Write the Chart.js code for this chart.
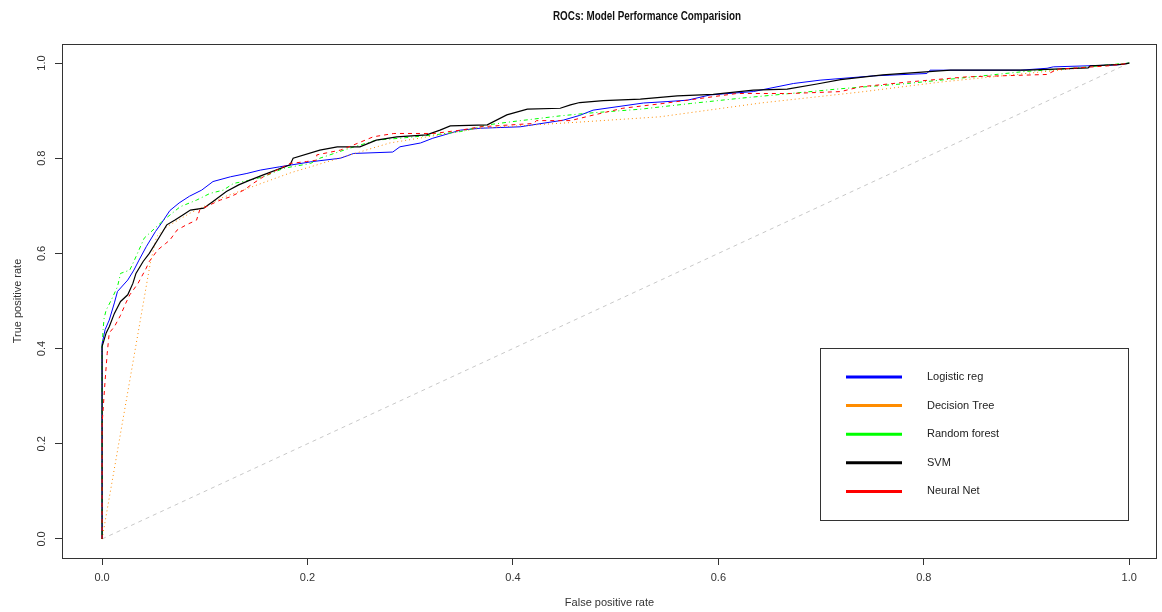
<!DOCTYPE html>
<html>
<head>
<meta charset="utf-8">
<script src="https://cdn.jsdelivr.net/npm/chart.js@4.4.1/dist/chart.umd.min.js"></script>
<style>
  html, body { margin: 0; padding: 0; background: #fff; }
  #roc { display: block; }
</style>
</head>
<body>
<canvas id="roc" width="1162" height="612"></canvas>
<script>
// ROC points (false positive rate / true positive rate)
const modelNames = ['Logistic reg', 'Decision Tree', 'Random forest', 'SVM', 'Neural Net'];
const axisTicks = [0, 0.2, 0.4, 0.6, 0.8, 1.0];

const lrFpr = [0, 0, 0.003, 0.007, 0.012, 0.015, 0.025, 0.031, 0.036, 0.043, 0.052, 0.058, 0.066, 0.075, 0.085, 0.097, 0.108, 0.125, 0.141, 0.154, 0.173, 0.205, 0.232, 0.245, 0.283, 0.29, 0.31, 0.322, 0.349, 0.368, 0.407, 0.449, 0.465, 0.478, 0.527, 0.55, 0.57, 0.592, 0.634, 0.673, 0.699, 0.751, 0.803, 0.806, 0.894, 0.92, 0.926, 0.988, 1];
const lrTpr = [0, 0.41, 0.44, 0.46, 0.496, 0.52, 0.544, 0.565, 0.586, 0.614, 0.646, 0.664, 0.69, 0.706, 0.72, 0.733, 0.751, 0.761, 0.768, 0.775, 0.782, 0.793, 0.80, 0.81, 0.813, 0.824, 0.832, 0.842, 0.859, 0.863, 0.866, 0.88, 0.89, 0.901, 0.916, 0.919, 0.922, 0.933, 0.94, 0.957, 0.964, 0.973, 0.978, 0.985, 0.985, 0.989, 0.992, 0.996, 1];

const dtFpr = [0, 0.047, 0.053, 0.063, 0.086, 0.118, 0.183, 0.28, 0.368, 0.465, 0.543, 0.641, 0.738, 0.816, 0.913, 1];
const dtTpr = [0, 0.58, 0.635, 0.656, 0.685, 0.718, 0.769, 0.832, 0.863, 0.876, 0.887, 0.916, 0.939, 0.96, 0.981, 1];

const rfFpr = [0, 0, 0.001, 0.002, 0.004, 0.009, 0.015, 0.018, 0.027, 0.033, 0.041, 0.046, 0.06, 0.076, 0.092, 0.105, 0.118, 0.128, 0.144, 0.157, 0.177, 0.203, 0.212, 0.241, 0.267, 0.29, 0.323, 0.349, 0.375, 0.40, 0.446, 0.475, 0.524, 0.573, 0.621, 0.67, 0.719, 0.784, 0.848, 0.897, 0.945, 0.994, 1];
const rfTpr = [0, 0.40, 0.44, 0.464, 0.481, 0.502, 0.53, 0.558, 0.565, 0.593, 0.632, 0.642, 0.67, 0.698, 0.712, 0.726, 0.733, 0.747, 0.754, 0.761, 0.779, 0.789, 0.80, 0.821, 0.838, 0.842, 0.849, 0.856, 0.87, 0.877, 0.889, 0.895, 0.903, 0.915, 0.926, 0.936, 0.946, 0.957, 0.971, 0.982, 0.989, 0.999, 1];

const svmFpr = [0, 0, 0.004, 0.007, 0.012, 0.018, 0.025, 0.03, 0.033, 0.04, 0.046, 0.056, 0.063, 0.071, 0.079, 0.086, 0.099, 0.108, 0.121, 0.133, 0.144, 0.157, 0.183, 0.186, 0.212, 0.229, 0.251, 0.267, 0.287, 0.316, 0.329, 0.339, 0.375, 0.394, 0.414, 0.446, 0.456, 0.465, 0.488, 0.524, 0.56, 0.595, 0.634, 0.667, 0.696, 0.719, 0.76, 0.826, 0.90, 0.96, 0.962, 0.993, 1];
const svmTpr = [0, 0.404, 0.433, 0.446, 0.474, 0.499, 0.513, 0.537, 0.558, 0.583, 0.60, 0.635, 0.66, 0.67, 0.681, 0.691, 0.695, 0.709, 0.73, 0.744, 0.754, 0.765, 0.786, 0.80, 0.817, 0.824, 0.824, 0.838, 0.845, 0.849, 0.859, 0.868, 0.87, 0.891, 0.903, 0.905, 0.912, 0.917, 0.921, 0.924, 0.931, 0.934, 0.943, 0.945, 0.956, 0.965, 0.975, 0.985, 0.985, 0.99, 0.994, 0.997, 1];

const nnFpr = [0, 0, 0.003, 0.005, 0.007, 0.012, 0.018, 0.023, 0.027, 0.035, 0.043, 0.046, 0.054, 0.062, 0.066, 0.073, 0.082, 0.092, 0.095, 0.105, 0.115, 0.125, 0.138, 0.147, 0.157, 0.17, 0.183, 0.199, 0.209, 0.209, 0.232, 0.245, 0.264, 0.284, 0.323, 0.349, 0.368, 0.42, 0.423, 0.456, 0.475, 0.507, 0.546, 0.57, 0.618, 0.67, 0.719, 0.738, 0.784, 0.842, 0.92, 0.93, 0.979, 0.998, 1];
const nnTpr = [0, 0.24, 0.334, 0.39, 0.433, 0.446, 0.47, 0.495, 0.513, 0.537, 0.569, 0.583, 0.607, 0.621, 0.628, 0.649, 0.66, 0.67, 0.691, 0.702, 0.712, 0.719, 0.733, 0.747, 0.761, 0.775, 0.789, 0.793, 0.796, 0.807, 0.817, 0.828, 0.845, 0.852, 0.852, 0.859, 0.866, 0.873, 0.879, 0.879, 0.889, 0.905, 0.915, 0.922, 0.936, 0.936, 0.94, 0.95, 0.96, 0.971, 0.976, 0.987, 0.994, 0.999, 1];

const chanceFpr = [0, 1];
const chanceTpr = [0, 1];

const toPoints = (xs, ys) => xs.map((x, i) => ({ x: x, y: ys[i] }));

const FONT = '"Liberation Sans", Arial, sans-serif';
const INK = '#333';
const TITLE = 'ROCs: Model Performance Comparision';

// main title; the R device used a narrow bold face, so squeeze it horizontally
const rTitle = {
  id: 'rTitle',
  afterDraw(chart) {
    const { ctx } = chart;
    ctx.save();
    ctx.font = 'bold 12px ' + FONT;
    const sx = Math.min(1, 188 / ctx.measureText(TITLE).width);
    ctx.translate(647, 17);
    ctx.scale(sx, 1);
    ctx.fillStyle = '#111';
    ctx.textAlign = 'center';
    ctx.textBaseline = 'middle';
    ctx.fillText(TITLE, 0, 0);
    ctx.restore();
  }
};

// box around the plot region, like R's box()
const boxPlugin = {
  id: 'box',
  afterDraw(chart) {
    const { ctx, chartArea: a } = chart;
    ctx.save();
    ctx.strokeStyle = INK;
    ctx.lineWidth = 1;
    ctx.strokeRect(Math.round(a.left) + 0.5, Math.round(a.top) + 0.5,
      Math.round(a.right - a.left) - 1, Math.round(a.bottom - a.top));
    ctx.restore();
  }
};

// R-style legend in a framed box at the bottom right
const rLegend = {
  id: 'rLegend',
  afterDraw(chart) {
    const { ctx } = chart;
    const left = 820.5, top = 348.5, w = 308, h = 172;
    ctx.save();
    ctx.strokeStyle = INK;
    ctx.lineWidth = 1;
    ctx.strokeRect(left, top, w, h);
    ctx.font = '11px ' + FONT;
    ctx.textBaseline = 'middle';
    modelNames.forEach((name, i) => {
      const ds = chart.data.datasets[i];
      const y = 377 + i * 28.6;
      ctx.strokeStyle = ds.borderColor;
      ctx.lineWidth = 3;
      ctx.setLineDash([]);
      ctx.beginPath();
      ctx.moveTo(846, y);
      ctx.lineTo(902, y);
      ctx.stroke();
      ctx.fillStyle = '#222';
      ctx.fillText(name, 927, y);
    });
    ctx.restore();
  }
};

const curve = (label, xs, ys, color, dash, order, width) => ({
  label: label,
  data: toPoints(xs, ys),
  borderColor: color,
  borderWidth: width || 1,
  borderDash: dash,
  pointRadius: 0,
  tension: 0,
  fill: false,
  order: order
});

new Chart(document.getElementById('roc'), {
  type: 'line',
  data: {
    datasets: [
      curve('Logistic reg', lrFpr, lrTpr, '#0000ff', [], 5),
      curve('Decision Tree', dtFpr, dtTpr, '#ff8c00', [1, 3], 4),
      curve('Random forest', rfFpr, rfTpr, '#00ff00', [1, 3, 4, 3], 3),
      curve('SVM', svmFpr, svmTpr, '#000000', [], 2, 1.2),
      curve('Neural Net', nnFpr, nnTpr, '#ff0000', [4, 4], 1),
      curve('chance', chanceFpr, chanceTpr, '#c8c8c8', [4, 4], 10)
    ]
  },
  options: {
    responsive: false,
    animation: false,
    devicePixelRatio: 1,
    layout: { padding: { top: 44, right: 5, bottom: 0, left: 0 } },
    plugins: {
      legend: { display: false },
      tooltip: { enabled: false },
      title: { display: false }
    },
    scales: {
      x: {
        type: 'linear',
        min: -0.039,
        max: 1.027,
        afterBuildTicks: s => { s.ticks = axisTicks.map(v => ({ value: v })); },
        afterFit: s => { s.height = 54; },
        grid: { display: true, drawOnChartArea: false, drawTicks: true, tickLength: 7, color: INK },
        border: { display: false },
        ticks: {
          color: INK, padding: 6, maxRotation: 0,
          font: { family: FONT, size: 11 },
          callback: v => v.toFixed(1)
        },
        title: {
          display: true, text: 'False positive rate', color: INK,
          font: { family: FONT, size: 11, lineHeight: 1.2 },
          padding: { top: 0, bottom: 2.4 }
        }
      },
      y: {
        type: 'linear',
        min: -0.04,
        max: 1.04,
        afterBuildTicks: s => { s.ticks = axisTicks.map(v => ({ value: v })); },
        afterFit: s => { s.width = 62; },
        grid: { display: true, drawOnChartArea: false, drawTicks: true, tickLength: 7, color: INK },
        border: { display: false },
        ticks: {
          color: INK, padding: 5, minRotation: 90, maxRotation: 90, crossAlign: 'center',
          font: { family: FONT, size: 11 },
          callback: v => v.toFixed(1)
        },
        title: {
          display: true, text: 'True positive rate', color: INK,
          font: { family: FONT, size: 11, lineHeight: 1.2 },
          padding: { top: 11.4, bottom: 0 }
        }
      }
    }
  },
  plugins: [rTitle, boxPlugin, rLegend]
});
</script>
</body>
</html>
